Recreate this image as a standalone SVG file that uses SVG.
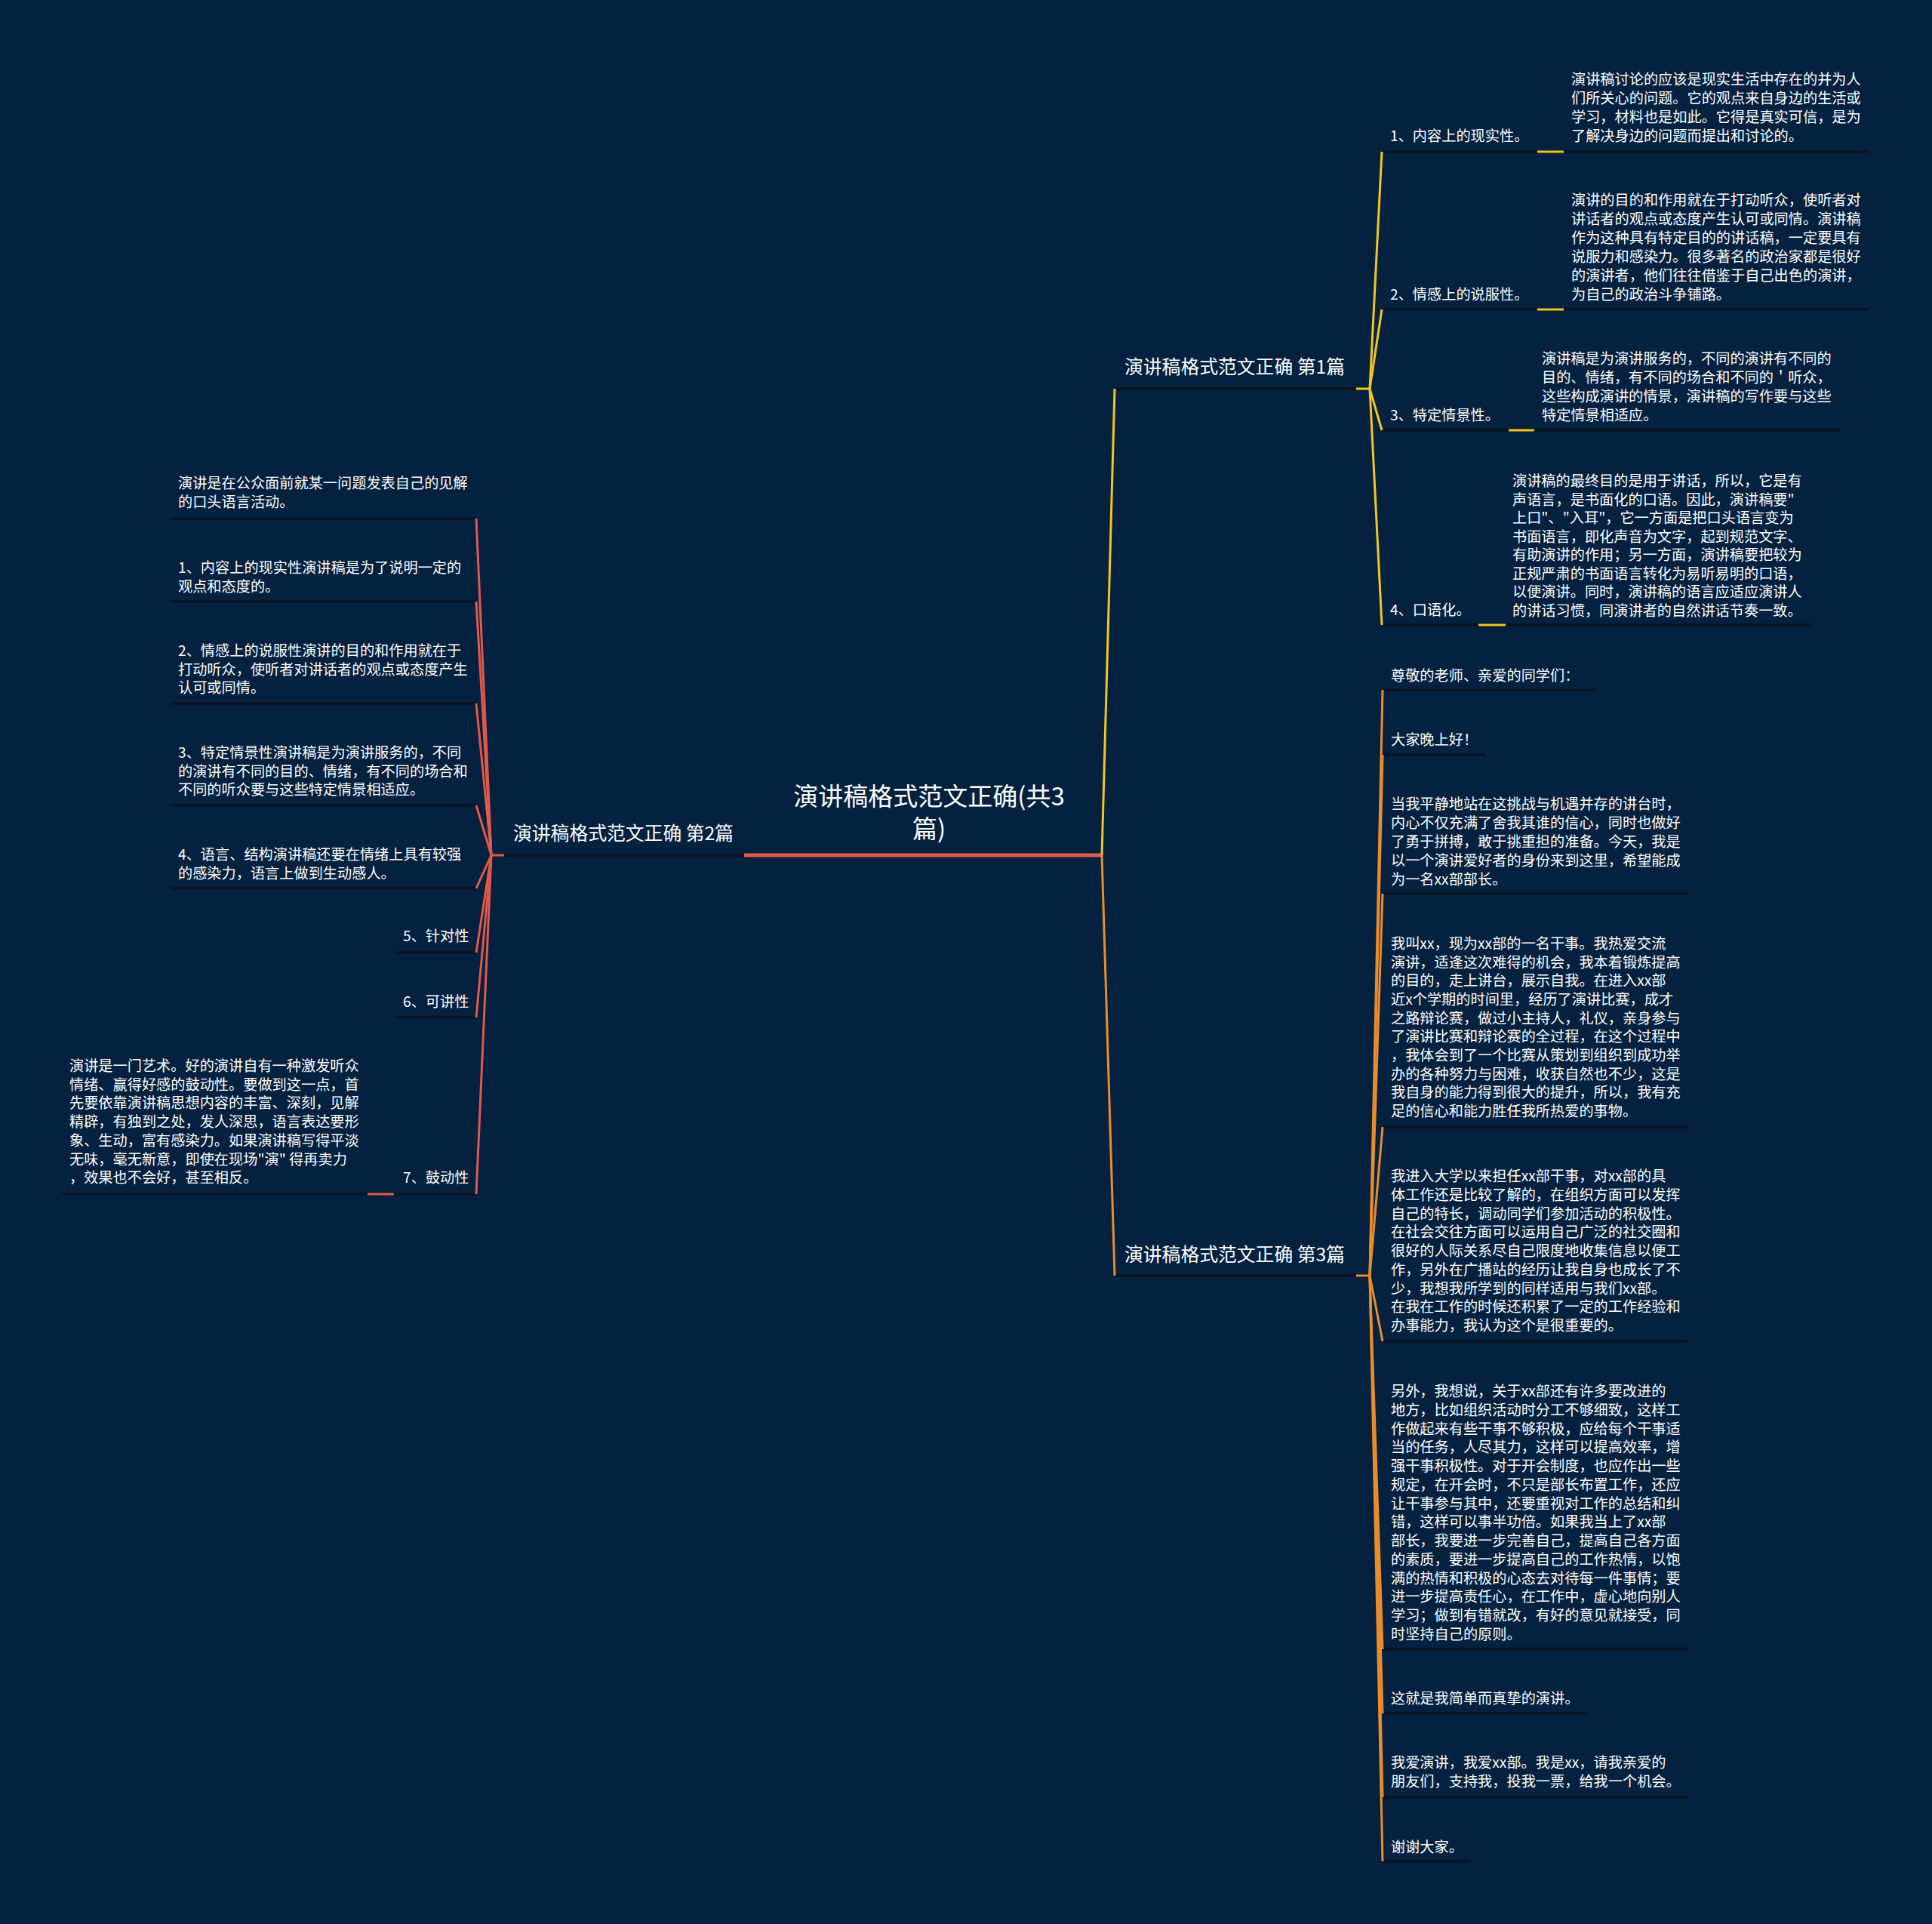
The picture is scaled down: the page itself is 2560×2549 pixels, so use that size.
<svg xmlns="http://www.w3.org/2000/svg" width="2560" height="2549" viewBox="0 0 2560 2549">
<style>
.t{font-family:"Noto Sans CJK SC","Liberation Sans",sans-serif;fill:#ffffff;font-size:19.2px}
.b{font-size:24.8px}
.r{font-size:33px;text-anchor:middle}
.ul{stroke:#0a1322;stroke-width:3.5;fill:none}
.y{stroke:#f2c51f;stroke-width:3;fill:none}
.o{stroke:#ea8c2b;stroke-width:3;fill:none}
.rd{stroke:#e2584a;stroke-width:3;fill:none}
</style>
<rect x="0" y="0" width="2560" height="2549" fill="#04213f"/>

<g id="root">
  <text class="t r" x="1231" y="1067">演讲稿格式范文正确(共3</text>
  <text class="t r" x="1231" y="1110">篇)</text>
</g>

<g id="branch1">
  <line x1="1477" y1="515" x2="1797" y2="515" class="ul"/>
  <text class="t b" x="1490" y="495">演讲稿格式范文正确 第1篇</text>
</g>
<g id="branch2">
  <line x1="668" y1="1133" x2="986" y2="1133" class="ul"/>
  <text class="t b" x="680" y="1113">演讲稿格式范文正确 第2篇</text>
</g>
<g id="branch3">
  <line x1="1477" y1="1690" x2="1797" y2="1690" class="ul"/>
  <text class="t b" x="1490" y="1671">演讲稿格式范文正确 第3篇</text>
</g>

<!-- branch 1 children -->
<g id="b1c1">
  <line x1="1831" y1="201" x2="2476" y2="201" class="ul"/>
  <text class="t" x="1842" y="187">1、内容上的现实性。</text>
  <text class="t" x="2082" y="112"><tspan x="2082">演讲稿讨论的应该是现实生活中存在的并为人</tspan><tspan x="2082" dy="25">们所关心的问题。它的观点来自身边的生活或</tspan><tspan x="2082" dy="25">学习，材料也是如此。它得是真实可信，是为</tspan><tspan x="2082" dy="25">了解决身边的问题而提出和讨论的。</tspan></text>
</g>
<g id="b1c2">
  <line x1="1831" y1="410" x2="2476" y2="410" class="ul"/>
  <text class="t" x="1842" y="397">2、情感上的说服性。</text>
  <text class="t" x="2082" y="272"><tspan x="2082">演讲的目的和作用就在于打动听众，使听者对</tspan><tspan x="2082" dy="25">讲话者的观点或态度产生认可或同情。演讲稿</tspan><tspan x="2082" dy="25">作为这种具有特定目的的讲话稿，一定要具有</tspan><tspan x="2082" dy="25">说服力和感染力。很多著名的政治家都是很好</tspan><tspan x="2082" dy="25">的演讲者，他们往往借鉴于自己出色的演讲，</tspan><tspan x="2082" dy="25">为自己的政治斗争铺路。</tspan></text>
</g>
<g id="b1c3">
  <line x1="1831" y1="570" x2="2438" y2="570" class="ul"/>
  <text class="t" x="1842" y="557">3、特定情景性。</text>
  <text class="t" x="2043" y="482"><tspan x="2043">演讲稿是为演讲服务的，不同的演讲有不同的</tspan><tspan x="2043" dy="25">目的、情绪，有不同的场合和不同的＇听众，</tspan><tspan x="2043" dy="25">这些构成演讲的情景，演讲稿的写作要与这些</tspan><tspan x="2043" dy="25">特定情景相适应。</tspan></text>
</g>
<g id="b1c4">
  <line x1="1831" y1="828" x2="2400" y2="828" class="ul"/>
  <text class="t" x="1842" y="815">4、口语化。</text>
  <text class="t" x="2004" y="644"><tspan x="2004">演讲稿的最终目的是用于讲话，所以，它是有</tspan><tspan x="2004" dy="24.5">声语言，是书面化的口语。因此，演讲稿要"</tspan><tspan x="2004" dy="24.5">上口"、"入耳"，它一方面是把口头语言变为</tspan><tspan x="2004" dy="24.5">书面语言，即化声音为文字，起到规范文字、</tspan><tspan x="2004" dy="24.5">有助演讲的作用；另一方面，演讲稿要把较为</tspan><tspan x="2004" dy="24.5">正规严肃的书面语言转化为易听易明的口语，</tspan><tspan x="2004" dy="24.5">以便演讲。同时，演讲稿的语言应适应演讲人</tspan><tspan x="2004" dy="24.5">的讲话习惯，同演讲者的自然讲话节奏一致。</tspan></text>
</g>

<!-- branch 3 children -->
<g id="b3c1">
  <line x1="1832" y1="914" x2="2113" y2="914" class="ul"/>
  <text class="t" x="1843" y="902">尊敬的老师、亲爱的同学们：</text>
</g>
<g id="b3c2">
  <line x1="1832" y1="1000" x2="1967" y2="1000" class="ul"/>
  <text class="t" x="1843" y="987">大家晚上好！</text>
</g>
<g id="b3c3">
  <line x1="1832" y1="1184" x2="2237" y2="1184" class="ul"/>
  <text class="t" x="1843" y="1072"><tspan x="1843">当我平静地站在这挑战与机遇并存的讲台时，</tspan><tspan x="1843" dy="25">内心不仅充满了舍我其谁的信心，同时也做好</tspan><tspan x="1843" dy="25">了勇于拼搏，敢于挑重担的准备。今天，我是</tspan><tspan x="1843" dy="25">以一个演讲爱好者的身份来到这里，希望能成</tspan><tspan x="1843" dy="25">为一名xx部部长。</tspan></text>
</g>
<g id="b3c4">
  <line x1="1832" y1="1493" x2="2237" y2="1493" class="ul"/>
  <text class="t" x="1843" y="1257"><tspan x="1843">我叫xx，现为xx部的一名干事。我热爱交流</tspan><tspan x="1843" dy="24.65">演讲，适逢这次难得的机会，我本着锻炼提高</tspan><tspan x="1843" dy="24.65">的目的，走上讲台，展示自我。在进入xx部</tspan><tspan x="1843" dy="24.65">近x个学期的时间里，经历了演讲比赛，成才</tspan><tspan x="1843" dy="24.65">之路辩论赛，做过小主持人，礼仪，亲身参与</tspan><tspan x="1843" dy="24.65">了演讲比赛和辩论赛的全过程，在这个过程中</tspan><tspan x="1843" dy="24.65">，我体会到了一个比赛从策划到组织到成功举</tspan><tspan x="1843" dy="24.65">办的各种努力与困难，收获自然也不少，这是</tspan><tspan x="1843" dy="24.65">我自身的能力得到很大的提升，所以，我有充</tspan><tspan x="1843" dy="24.65">足的信心和能力胜任我所热爱的事物。</tspan></text>
</g>
<g id="b3c5">
  <line x1="1832" y1="1777" x2="2237" y2="1777" class="ul"/>
  <text class="t" x="1843" y="1565"><tspan x="1843">我进入大学以来担任xx部干事，对xx部的具</tspan><tspan x="1843" dy="24.75">体工作还是比较了解的，在组织方面可以发挥</tspan><tspan x="1843" dy="24.75">自己的特长，调动同学们参加活动的积极性。</tspan><tspan x="1843" dy="24.75">在社会交往方面可以运用自己广泛的社交圈和</tspan><tspan x="1843" dy="24.75">很好的人际关系尽自己限度地收集信息以便工</tspan><tspan x="1843" dy="24.75">作，另外在广播站的经历让我自身也成长了不</tspan><tspan x="1843" dy="24.75">少，我想我所学到的同样适用与我们xx部。</tspan><tspan x="1843" dy="24.75">在我在工作的时候还积累了一定的工作经验和</tspan><tspan x="1843" dy="24.75">办事能力，我认为这个是很重要的。</tspan></text>
</g>
<g id="b3c6">
  <line x1="1832" y1="2185" x2="2237" y2="2185" class="ul"/>
  <text class="t" x="1843" y="1850"><tspan x="1843">另外，我想说，关于xx部还有许多要改进的</tspan><tspan x="1843" dy="24.77">地方，比如组织活动时分工不够细致，这样工</tspan><tspan x="1843" dy="24.77">作做起来有些干事不够积极，应给每个干事适</tspan><tspan x="1843" dy="24.77">当的任务，人尽其力，这样可以提高效率，增</tspan><tspan x="1843" dy="24.77">强干事积极性。对于开会制度，也应作出一些</tspan><tspan x="1843" dy="24.77">规定，在开会时，不只是部长布置工作，还应</tspan><tspan x="1843" dy="24.77">让干事参与其中，还要重视对工作的总结和纠</tspan><tspan x="1843" dy="24.77">错，这样可以事半功倍。如果我当上了xx部</tspan><tspan x="1843" dy="24.77">部长，我要进一步完善自己，提高自己各方面</tspan><tspan x="1843" dy="24.77">的素质，要进一步提高自己的工作热情，以饱</tspan><tspan x="1843" dy="24.77">满的热情和积极的心态去对待每一件事情；要</tspan><tspan x="1843" dy="24.77">进一步提高责任心，在工作中，虚心地向别人</tspan><tspan x="1843" dy="24.77">学习；做到有错就改，有好的意见就接受，同</tspan><tspan x="1843" dy="24.77">时坚持自己的原则。</tspan></text>
</g>
<g id="b3c7">
  <line x1="1832" y1="2270" x2="2102" y2="2270" class="ul"/>
  <text class="t" x="1843" y="2257">这就是我简单而真挚的演讲。</text>
</g>
<g id="b3c8">
  <line x1="1832" y1="2381" x2="2237" y2="2381" class="ul"/>
  <text class="t" x="1843" y="2342"><tspan x="1843">我爱演讲，我爱xx部。我是xx，请我亲爱的</tspan><tspan x="1843" dy="25">朋友们，支持我，投我一票，给我一个机会。</tspan></text>
</g>
<g id="b3c9">
  <line x1="1832" y1="2466" x2="1947" y2="2466" class="ul"/>
  <text class="t" x="1843" y="2454">谢谢大家。</text>
</g>

<!-- branch 2 children -->
<g id="b2c0">
  <line x1="226" y1="687" x2="631" y2="687" class="ul"/>
  <text class="t" x="236" y="647"><tspan x="236">演讲是在公众面前就某一问题发表自己的见解</tspan><tspan x="236" dy="24.7">的口头语言活动。</tspan></text>
</g>
<g id="b2c1">
  <line x1="226" y1="797" x2="631" y2="797" class="ul"/>
  <text class="t" x="236" y="759"><tspan x="236">1、内容上的现实性演讲稿是为了说明一定的</tspan><tspan x="236" dy="24.7">观点和态度的。</tspan></text>
</g>
<g id="b2c2">
  <line x1="226" y1="932" x2="631" y2="932" class="ul"/>
  <text class="t" x="236" y="869"><tspan x="236">2、情感上的说服性演讲的目的和作用就在于</tspan><tspan x="236" dy="24.7">打动听众，使听者对讲话者的观点或态度产生</tspan><tspan x="236" dy="24.7">认可或同情。</tspan></text>
</g>
<g id="b2c3">
  <line x1="226" y1="1067" x2="631" y2="1067" class="ul"/>
  <text class="t" x="236" y="1004"><tspan x="236">3、特定情景性演讲稿是为演讲服务的，不同</tspan><tspan x="236" dy="24.7">的演讲有不同的目的、情绪，有不同的场合和</tspan><tspan x="236" dy="24.7">不同的听众要与这些特定情景相适应。</tspan></text>
</g>
<g id="b2c4">
  <line x1="226" y1="1177" x2="631" y2="1177" class="ul"/>
  <text class="t" x="236" y="1139"><tspan x="236">4、语言、结构演讲稿还要在情绪上具有较强</tspan><tspan x="236" dy="24.7">的感染力，语言上做到生动感人。</tspan></text>
</g>
<g id="b2c5">
  <line x1="523" y1="1262" x2="631" y2="1262" class="ul"/>
  <text class="t" x="534" y="1247">5、针对性</text>
</g>
<g id="b2c6">
  <line x1="523" y1="1348" x2="631" y2="1348" class="ul"/>
  <text class="t" x="534" y="1334">6、可讲性</text>
</g>
<g id="b2c7">
  <line x1="84" y1="1582" x2="631" y2="1582" class="ul"/>
  <text class="t" x="534" y="1567">7、鼓动性</text>
  <text class="t" x="92" y="1419"><tspan x="92">演讲是一门艺术。好的演讲自有一种激发听众</tspan><tspan x="92" dy="24.7">情绪、赢得好感的鼓动性。要做到这一点，首</tspan><tspan x="92" dy="24.7">先要依靠演讲稿思想内容的丰富、深刻，见解</tspan><tspan x="92" dy="24.7">精辟，有独到之处，发人深思，语言表达要形</tspan><tspan x="92" dy="24.7">象、生动，富有感染力。如果演讲稿写得平淡</tspan><tspan x="92" dy="24.7">无味，毫无新意，即使在现场"演" 得再卖力</tspan><tspan x="92" dy="24.7">，效果也不会好，甚至相反。</tspan></text>
</g>

<g id="connectors">
  <line x1="986" y1="1133" x2="1460" y2="1133" stroke="#e2584a" stroke-width="5"/>
  <line x1="1460" y1="1133" x2="1477" y2="515" class="y" stroke-width="4"/>
  <line x1="1460" y1="1133" x2="1477" y2="1690" class="o" stroke-width="4"/>
  <line x1="1797" y1="515" x2="1815" y2="515" class="y"/>
  <line x1="1815" y1="515" x2="1831" y2="201" class="y"/>
  <line x1="1815" y1="515" x2="1831" y2="410" class="y"/>
  <line x1="1815" y1="515" x2="1831" y2="570" class="y"/>
  <line x1="1815" y1="515" x2="1831" y2="828" class="y"/>
  <line x1="2037" y1="201" x2="2072" y2="201" class="y" stroke-width="3.5"/>
  <line x1="2037" y1="410" x2="2072" y2="410" class="y" stroke-width="3.5"/>
  <line x1="1999" y1="570" x2="2033" y2="570" class="y" stroke-width="3.5"/>
  <line x1="1959" y1="828" x2="1995" y2="828" class="y" stroke-width="3.5"/>
  <line x1="1797" y1="1690" x2="1815" y2="1690" class="o"/>
  <line x1="1815" y1="1690" x2="1832" y2="914" class="o"/>
  <line x1="1815" y1="1690" x2="1832" y2="1000" class="o"/>
  <line x1="1815" y1="1690" x2="1832" y2="1184" class="o"/>
  <line x1="1815" y1="1690" x2="1832" y2="1493" class="o"/>
  <line x1="1815" y1="1690" x2="1832" y2="1777" class="o"/>
  <line x1="1815" y1="1690" x2="1832" y2="2185" class="o"/>
  <line x1="1815" y1="1690" x2="1832" y2="2270" class="o"/>
  <line x1="1815" y1="1690" x2="1832" y2="2381" class="o"/>
  <line x1="1815" y1="1690" x2="1832" y2="2466" class="o"/>
  <line x1="651" y1="1133" x2="668" y2="1133" class="rd"/>
  <line x1="651" y1="1133" x2="631" y2="687" class="rd"/>
  <line x1="651" y1="1133" x2="631" y2="797" class="rd"/>
  <line x1="651" y1="1133" x2="631" y2="932" class="rd"/>
  <line x1="651" y1="1133" x2="631" y2="1067" class="rd"/>
  <line x1="651" y1="1133" x2="631" y2="1177" class="rd"/>
  <line x1="651" y1="1133" x2="631" y2="1262" class="rd"/>
  <line x1="651" y1="1133" x2="631" y2="1348" class="rd"/>
  <line x1="651" y1="1133" x2="631" y2="1582" class="rd"/>
  <line x1="487" y1="1582" x2="522" y2="1582" class="rd" stroke-width="3.5"/>
</g>
</svg>
